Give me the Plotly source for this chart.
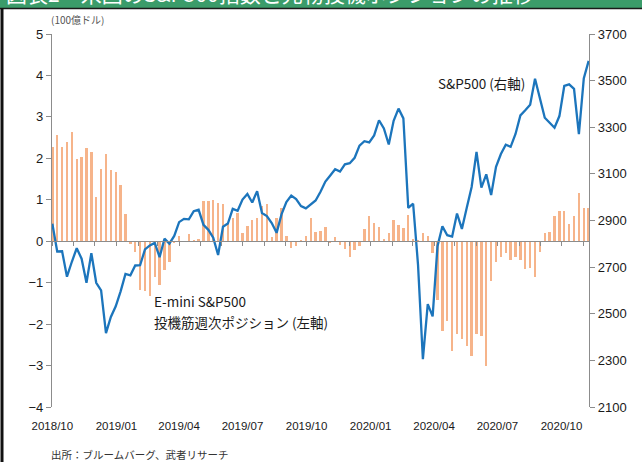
import pandas as pd
import plotly.graph_objects as go

# ---- data ----
dates = pd.date_range("2018-10-05", periods=111, freq="W-FRI")

positions = [
    2.28, 2.57, 2.28, 2.40, 2.64, 1.98, 2.03, 2.26, 2.16, 1.06,
    1.75, 2.11, 1.72, 1.67, 1.35, 0.65, -0.06, -0.25, -1.17, -1.21,
    -1.33, -0.86, -1.05, -0.70, -0.50, -0.05, 0.12, 0.00, 0.17, 0.03,
    0.05, 0.98, 0.96, 1.00, 0.93, 0.91, 0.45, 0.57, 0.69, 0.20,
    0.36, 0.52, 0.57, 0.84, 0.91, 0.10, 0.57, 0.80, 0.13, -0.16,
    -0.12, 0.04, 0.12, 0.55, 0.22, 0.24, 0.35, -0.02, 0.10, -0.08,
    -0.18, -0.38, -0.20, -0.12, 0.30, 0.62, 0.43, 0.35, 0.06, 0.19,
    0.52, 0.40, 0.32, 0.64, 0.06, 0.03, 0.19, 0.12, -0.28, -1.41,
    -2.17, -1.93, -2.65, -2.23, -2.36, -2.53, -2.76, -2.25, -2.28, -3.02,
    -0.97, -0.49, -0.37, -0.28, -0.45, -0.38, -0.45, -0.67, -0.65, -0.86,
    -0.27, 0.20, 0.22, 0.60, 0.72, 0.74, 0.42, 0.60, 1.16, 0.80,
    0.80,
]

sp500 = [
    2886, 2767, 2768, 2659, 2723, 2781, 2736, 2633, 2760, 2633,
    2600, 2417, 2486, 2532, 2596, 2671, 2665, 2707, 2708, 2776,
    2793, 2804, 2743, 2822, 2801, 2834, 2893, 2907, 2905, 2940,
    2946, 2881, 2860, 2826, 2752, 2873, 2887, 2950, 2942, 2990,
    3014, 2977, 3026, 2932, 2919, 2889, 2847, 2926, 2979, 3007,
    2992, 2962, 2952, 2970, 2986, 3023, 3067, 3093, 3120, 3110,
    3141, 3146, 3169, 3221, 3240, 3235, 3265, 3330, 3295, 3226,
    3328, 3380, 3338, 2954, 2972, 2711, 2305, 2541, 2489, 2790,
    2875, 2837, 2831, 2930, 2864, 2955, 3044, 3194, 3041, 3098,
    3009, 3130, 3185, 3225, 3216, 3271, 3351, 3373, 3397, 3508,
    3427, 3341, 3319, 3298, 3348, 3477, 3484, 3465, 3270, 3509,
    3585,
]

tick_dates = ["2018-10-05", "2019-01-05", "2019-04-05", "2019-07-05", "2019-10-05",
              "2020-01-05", "2020-04-05", "2020-07-05", "2020-10-05"]
tick_text = ["2018/10", "2019/01", "2019/04", "2019/07", "2019/10",
             "2020/01", "2020/04", "2020/07", "2020/10"]

# ---- figure ----
FONT = "Liberation Sans, Arial, Noto Sans CJK JP, sans-serif"
JFONT = "Noto Sans CJK JP, Liberation Sans, sans-serif"
W, H = 642, 462
L, R, T, B = 52, 53, 34, 55
pw, ph = W - L - R, H - T - B


def px(x):
    return (x - L) / pw


def py(y):
    return (H - B - y) / ph


x_range = ["2018-10-04 12:00", "2020-11-13 12:00"]

fig = go.Figure()
fig.add_trace(go.Bar(
    x=dates, y=positions, xaxis="x", yaxis="y",
    marker=dict(color="#F6B48A", line=dict(width=0)),
    width=3.4 * 86400000, showlegend=False,
))
fig.add_trace(go.Scatter(
    x=dates, y=sp500, xaxis="x2", yaxis="y2", mode="lines",
    line=dict(color="#1C75BC", width=2.3), showlegend=False,
))

fig.update_layout(
    width=W, height=H,
    margin=dict(l=L, r=R, t=T, b=B),
    paper_bgcolor="white", plot_bgcolor="white",
    font=dict(family=FONT, size=13, color="#1a1a1a"),
    bargap=0,
    xaxis=dict(
        type="date", range=x_range, showgrid=False, zeroline=False,
        showline=False, tickvals=tick_dates, ticktext=tick_text,
        ticks="outside", ticklen=8, tickcolor="rgba(0,0,0,0)",
        tickfont=dict(size=11.5, color="#1a1a1a"),
    ),
    xaxis2=dict(
        type="date", range=x_range, overlaying="x", matches="x",
        anchor="free", position=4 / 9, side="bottom",
        showgrid=False, zeroline=False, showline=True,
        linecolor="#8c8c8c", linewidth=1.2,
        tick0="2018-10-05", dtick="M1", ticks="outside", ticklen=4,
        tickcolor="#8c8c8c", showticklabels=False,
    ),
    yaxis=dict(
        range=[-4, 5], dtick=1, showgrid=False, zeroline=False,
        showline=True, linecolor="#8c8c8c", linewidth=1.2,
        ticks="outside", ticklen=5, tickcolor="#8c8c8c",
        tickfont=dict(size=13, color="#1a1a1a"),
    ),
    yaxis2=dict(
        range=[2100, 3700], tick0=2100, dtick=200, overlaying="y", side="right",
        showgrid=False, zeroline=False, showline=True,
        linecolor="#8c8c8c", linewidth=1.2,
        ticks="outside", ticklen=5, tickcolor="#8c8c8c",
        tickfont=dict(size=13, color="#1a1a1a"),
    ),
)

shapes = [
    # green header band
    dict(type="rect", xref="paper", yref="paper", x0=px(0), x1=px(W), y0=py(8), y1=py(-2),
         fillcolor="#3B9C6A", line=dict(width=0), layer="above"),
    dict(type="line", xref="paper", yref="paper", x0=px(0), x1=px(W), y0=py(8.5), y1=py(8.5),
         line=dict(color="#1a1a1a", width=1.5)),
    # left border
    dict(type="line", xref="paper", yref="paper", x0=px(2), x1=px(2), y0=py(8), y1=py(H + 2),
         line=dict(color="#111111", width=3)),
]
fig.update_layout(shapes=shapes)

annotations = [
    dict(text="図表2　米国のS&P500指数と先物投機ポジションの推移", xref="paper", yref="paper",
         x=px(4), y=py(-7), xanchor="left", yanchor="middle", showarrow=False,
         font=dict(family=JFONT, size=21, color="white")),
    dict(text="(100億ドル)", xref="paper", yref="paper", x=px(49), y=py(20),
         xanchor="left", yanchor="middle", showarrow=False,
         font=dict(family=JFONT, size=10, color="#555555")),
    dict(text="S&P500 (右軸)", xref="paper", yref="paper", x=px(436), y=py(83),
         xanchor="left", yanchor="middle", showarrow=False,
         font=dict(family=JFONT, size=13.5, color="#1a1a1a")),
    dict(text="E-mini S&P500", xref="paper", yref="paper", x=px(152), y=py(301),
         xanchor="left", yanchor="middle", showarrow=False,
         font=dict(family=JFONT, size=13.5, color="#1a1a1a")),
    dict(text="投機筋週次ポジション (左軸)", xref="paper", yref="paper", x=px(152), y=py(322),
         xanchor="left", yanchor="middle", showarrow=False,
         font=dict(family=JFONT, size=13.5, color="#1a1a1a")),
    dict(text="出所：ブルームバーグ、武者リサーチ", xref="paper", yref="paper", x=px(49), y=py(454),
         xanchor="left", yanchor="middle", showarrow=False,
         font=dict(family=JFONT, size=10.5, color="#333333")),
]
fig.update_layout(annotations=annotations)

fig.write_html(
    "out.html",
    config={"displayModeBar": False},
    post_script="document.body.style.margin='0';document.body.style.overflow='hidden';",
)
